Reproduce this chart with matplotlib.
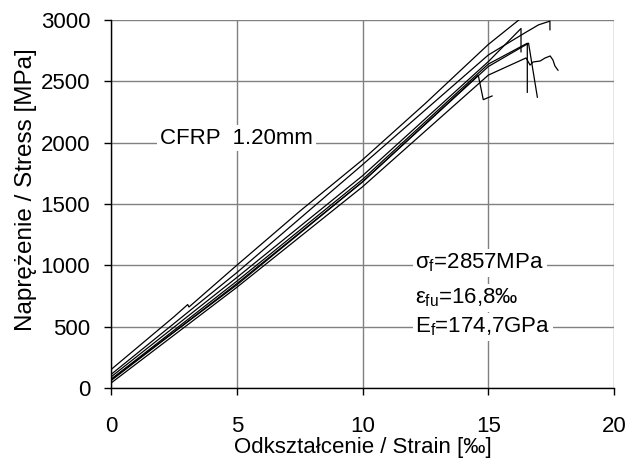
import matplotlib.pyplot as plt

plt.rcParams['font.family'] = ['Liberation Sans', 'DejaVu Sans']
plt.rcParams['mathtext.fontset'] = 'custom'
plt.rcParams['mathtext.rm'] = 'Liberation Sans'
plt.rcParams['mathtext.it'] = 'Liberation Sans'

# ===============================
# Test curves (strain [permil], stress [MPa])
# ===============================
c1_strain = [0, 2.5, 3.05, 3.1, 5, 7.5, 10, 12.5, 15, 16.4]
c1_stress = [150, 580, 680, 660, 1000, 1440, 1860, 2320, 2800, 3030]

c2_strain = [0, 5, 10, 15, 16.5, 17.0, 17.45, 17.45]
c2_stress = [110, 940, 1820, 2714, 2900, 2960, 2990, 2920]

c3_strain = [0, 5, 10, 15, 16.3, 16.3]
c3_stress = [90, 900, 1730, 2660, 2930, 2740]

c4_strain = [0, 5, 10, 15, 16.55, 16.55]
c4_stress = [70, 870, 1700, 2640, 2810, 2410]

c5_strain = [0, 5, 10, 15, 16.6, 16.95]
c5_stress = [60, 850, 1680, 2620, 2810, 2370]

c6_strain = [0, 5, 10, 15, 16.5, 16.66, 16.78, 17.06, 17.26, 17.46, 17.57, 17.65, 17.77]
c6_stress = [40, 820, 1640, 2550, 2690, 2632, 2657, 2665, 2690, 2706, 2673, 2624, 2590]

c7_strain = [0, 5, 10, 14.6, 14.7, 14.8, 15.15]
c7_stress = [70, 840, 1680, 2550, 2450, 2350, 2380]

CURVES = [
    (c1_strain, c1_stress),
    (c2_strain, c2_stress),
    (c3_strain, c3_stress),
    (c4_strain, c4_stress),
    (c5_strain, c5_stress),
    (c6_strain, c6_stress),
    (c7_strain, c7_stress),
]

X_TICKS = [0, 5, 10, 15, 20]
Y_TICKS = [0, 500, 1000, 1500, 2000, 2500, 3000]

FS = 16

# ===============================
# Plot
# ===============================
fig = plt.figure(figsize=(6.39, 4.63), dpi=100)
ax = fig.add_axes([0.1737, 0.162, 0.7873, 0.795])

for strain, stress in CURVES:
    ax.plot(strain, stress, color='black', linewidth=0.9)

ax.set_xlim(0, 20)
ax.set_ylim(0, 3000)
ax.set_xticks(X_TICKS)
ax.set_yticks(Y_TICKS)
ax.tick_params(direction='out', length=5, width=1, labelsize=FS, colors='black')
ax.tick_params(axis='x', pad=15)
ax.tick_params(axis='y', pad=10)
ax.grid(color='#808080', linewidth=1)
ax.set_axisbelow(True)
for side in ['top', 'right']:
    ax.spines[side].set_visible(False)
for side in ['left', 'bottom']:
    ax.spines[side].set_color('black')
    ax.spines[side].set_linewidth(1)

ax.set_xlabel("Odkształcenie / Strain [‰]", fontsize=FS, labelpad=0)
ax.set_ylabel("Naprężenie / Stress [MPa]", fontsize=17.5)
ax.yaxis.set_label_coords(-0.148, 0.54)

box = dict(facecolor='white', edgecolor='none', pad=2)
ax.text(1.95, 2037, "CFRP  1.20mm", fontsize=FS, va='center', ha='left', bbox=box)
ax.text(12.1, 1020, r"$\sigma_\mathrm{f}$=2857MPa", fontsize=FS, va='center', ha='left', bbox=box)
ax.text(12.1, 735, r"$\varepsilon_\mathrm{fu}$=16,8‰", fontsize=FS, va='center', ha='left', bbox=box)
ax.text(12.1, 500, r"E$_\mathrm{f}$=174,7GPa", fontsize=FS, va='center', ha='left', bbox=box)

fig.savefig("out.png", dpi=100)
